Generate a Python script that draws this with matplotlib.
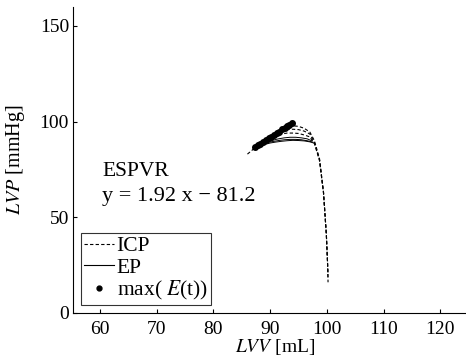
import matplotlib
matplotlib.use("Agg")
import matplotlib.pyplot as plt
from matplotlib.lines import Line2D

plt.rcParams['font.family'] = ['Liberation Serif', 'DejaVu Serif']
plt.rcParams['mathtext.fontset'] = 'stix'

# ICP (dashed) loops
icp_x = [
    [86.0, 87.0, 88.0, 89.0, 90.0, 91.0, 92.0, 93.0, 94.0, 95.0, 96.0, 97.0, 97.8, 98.7, 99.4, 99.9, 100.1, 100.2],
    [87.0, 88.0, 89.0, 90.0, 91.0, 92.0, 93.0, 94.0, 95.0, 96.0, 97.0, 97.8, 98.7, 99.4, 99.9, 100.1, 100.2],
    [88.0, 89.0, 90.0, 91.0, 92.0, 93.0, 94.0, 95.0, 96.0, 97.0, 97.8, 98.7, 99.4, 99.9, 100.1, 100.2],
]
icp_y = [
    [83.0, 85.5, 88.0, 90.0, 92.0, 94.0, 95.5, 97.0, 97.8, 97.5, 96.5, 94.5, 90.0, 80.5, 63.0, 41.0, 27.0, 16.0],
    [85.5, 88.0, 90.0, 92.0, 93.5, 95.0, 95.8, 96.0, 95.8, 95.0, 93.5, 89.0, 80.0, 63.0, 41.0, 27.0, 18.0],
    [88.0, 89.5, 91.0, 92.5, 93.5, 94.0, 94.0, 93.8, 93.0, 92.0, 88.5, 79.5, 62.5, 41.0, 27.0, 20.0],
]
# EP (solid) loops
ep_x = [
    [88.5, 89.5, 90.5, 91.5, 92.5, 93.5, 94.5, 95.5, 96.5, 97.3],
    [88.5, 89.5, 90.5, 91.5, 92.5, 93.5, 94.5, 95.5, 96.5, 97.5],
    [89.0, 90.0, 91.0, 92.0, 93.0, 94.0, 95.0, 96.0, 97.0, 97.8],
]
ep_y = [
    [88.5, 89.5, 90.3, 91.0, 91.5, 91.8, 91.8, 91.5, 91.0, 90.0],
    [88.0, 89.0, 89.6, 90.1, 90.5, 90.7, 90.7, 90.5, 90.0, 89.3],
    [88.0, 88.8, 89.3, 89.7, 90.0, 90.2, 90.1, 89.9, 89.4, 88.7],
]
# max(E(t)) points
emax_x = [87.3, 87.8, 88.3, 88.8, 89.3, 89.8, 90.2, 90.7, 91.2, 91.6, 92.1, 92.6, 93.0, 93.4, 93.8]
emax_y = [86.5, 87.5, 88.3, 89.5, 90.3, 91.5, 92.0, 93.2, 94.0, 94.8, 96.0, 96.8, 97.5, 98.3, 99.0]

fig = plt.figure(figsize=(4.66, 3.58), dpi=100)
ax = fig.add_axes([0.157, 0.126, 0.843, 0.855])

for xs, ys in zip(icp_x, icp_y):
    ax.plot(xs, ys, color='black', lw=0.8, ls=(0, (3, 2)))
for xs, ys in zip(ep_x, ep_y):
    ax.plot(xs, ys, color='black', lw=0.7, ls='-')
ax.plot(emax_x, emax_y, ls='none', marker='o', ms=4, color='black')

ax.set_xlim(55.3, 124.5)
ax.set_ylim(0, 160)
ax.set_xticks([60, 70, 80, 90, 100, 110, 120])
ax.set_yticks([0, 50, 100, 150])
ax.spines['top'].set_visible(False)
ax.spines['right'].set_visible(False)
ax.tick_params(direction='in', length=3, labelsize=14)
ax.tick_params(axis='x', pad=6)
ax.tick_params(axis='y', pad=3)

ax.set_xlabel(r'$\mathit{LVV}$ [mL]', fontsize=14)
ax.xaxis.set_label_coords(0.514, -0.078)
ax.set_ylabel(r'$\mathit{LVP}$ [mmHg]', fontsize=14.5)
ax.yaxis.set_label_coords(-0.117, 0.5)

ax.text(60.4, 71.3, 'ESPVR', fontsize=15.5, va='baseline')
ax.text(60.4, 58.3, 'y = 1.92 x \u2212 81.2', fontsize=16, va='baseline')

handles = [
    Line2D([], [], color='black', lw=0.8, ls=(0, (3, 2))),
    Line2D([], [], color='black', lw=0.8, ls='-'),
    Line2D([], [], color='black', ls='none', marker='o', ms=3.5),
]
leg = ax.legend(handles, ['ICP', 'EP', r'max( $\mathit{E}$(t))'], loc='lower left',
                bbox_to_anchor=(0.02, 0.026), fontsize=15.5, frameon=True, fancybox=False,
                edgecolor='black', handlelength=1.4, handletextpad=0.1,
                borderpad=0.15, labelspacing=0.05, borderaxespad=0.0)
leg.get_frame().set_linewidth(0.8)

fig.savefig('out.png', dpi=100)
